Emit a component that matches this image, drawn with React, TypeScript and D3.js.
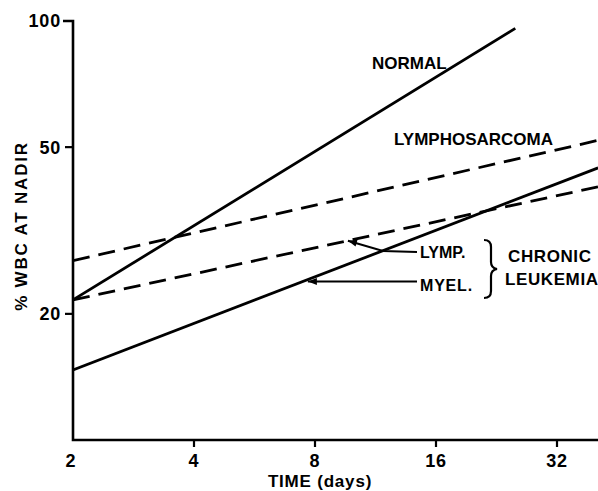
import * as d3 from "d3";

// x = time (days), y = % WBC at nadir
const xTicks = [2, 4, 8, 16, 32];
const yTicks = [20, 50, 100];

const normalDays = [2, 25.2];
const normalWbc = [21.6, 96];

const lymphosarcomaDays = [2, 40.5];
const lymphosarcomaWbc = [26.8, 51.9];

const lympDays = [2, 40.5];
const lympWbc = [21.6, 40.2];

const myelDays = [2, 40.5];
const myelWbc = [14.7, 44.6];

const FONT = "'Liberation Sans', Arial, sans-serif";

function App() {
  const width = 598;
  const height = 491;

  const x = d3.scaleLog().base(2).domain([2, 32]).range([73, 557]);
  const y = d3.scaleLog().domain([10, 100]).range([440, 21]);

  const line = d3
    .line<[number, number]>()
    .x((d) => x(d[0]))
    .y((d) => y(d[1]));

  const zip = (xs: number[], ys: number[]) =>
    xs.map((v, i) => [v, ys[i]] as [number, number]);

  // value of a straight (log-log) line at a given day
  const at = (xs: number[], ys: number[], day: number) => {
    const t = (Math.log(day) - Math.log(xs[0])) / (Math.log(xs[1]) - Math.log(xs[0]));
    return Math.exp(Math.log(ys[0]) + t * (Math.log(ys[1]) - Math.log(ys[0])));
  };

  const series = [
    { name: "normal", pts: zip(normalDays, normalWbc), dash: null },
    { name: "lymphosarcoma", pts: zip(lymphosarcomaDays, lymphosarcomaWbc), dash: "17 9" },
    { name: "lymp", pts: zip(lympDays, lympWbc), dash: "17 9" },
    { name: "myel", pts: zip(myelDays, myelWbc), dash: null },
  ];

  // arrow tips on the chronic leukemia lines
  const lympTipDay = 9.66;
  const lympTip: [number, number] = [x(lympTipDay), y(at(lympDays, lympWbc, lympTipDay))];
  const myelTipDay = 7.68;
  const myelTip: [number, number] = [x(myelTipDay), y(at(myelDays, myelWbc, myelTipDay))];

  const arrowHead = (tip: [number, number], from: [number, number]) => {
    const a = Math.atan2(from[1] - tip[1], from[0] - tip[0]);
    const len = 9;
    const w = 3.5;
    const bx = tip[0] + len * Math.cos(a);
    const by = tip[1] + len * Math.sin(a);
    const px = -Math.sin(a) * w;
    const py = Math.cos(a) * w;
    return `M${tip[0]},${tip[1]}L${bx + px},${by + py}L${bx - px},${by - py}Z`;
  };

  const lympBend: [number, number] = [383, 251];
  const lympEnd: [number, number] = [417, 252];
  const myelEnd: [number, number] = [417, myelTip[1] + 2];

  const textStyle = {
    fontFamily: FONT,
    fontWeight: "bold" as const,
    fontSize: 17,
    fill: "#000",
  };

  return (
    <svg
      width={width}
      height={height}
      style={{ position: "absolute", left: 0, top: 0, background: "#fff" }}
    >
      <defs>
        <clipPath id="plot">
          <rect x={73} y={0} width={width - 73} height={440} />
        </clipPath>
      </defs>

      {/* axes */}
      <path
        d={`M${x(2) - 10},${y(100)}H${x(2)}V${y(10)}H${width}`}
        fill="none"
        stroke="#000"
        strokeWidth={2.6}
      />
      {yTicks
        .filter((t) => t !== 100)
        .map((t) => (
          <line key={t} x1={x(2) - 8} x2={x(2)} y1={y(t)} y2={y(t)} stroke="#000" strokeWidth={2.2} />
        ))}
      {xTicks
        .filter((t) => t !== 2)
        .map((t) => (
          <line key={t} x1={x(t)} x2={x(t)} y1={y(10)} y2={y(10) + 7} stroke="#000" strokeWidth={2.2} />
        ))}

      {yTicks.map((t) => (
        <text key={t} x={x(2) - 12} y={y(t)} dy="0.36em" textAnchor="end" {...textStyle} fontSize={18} letterSpacing={0.8}>
          {t}
        </text>
      ))}
      {xTicks.map((t) => (
        <text key={t} x={x(t) - (t === 2 ? 2 : 0)} y={467} textAnchor="middle" {...textStyle} fontSize={18} letterSpacing={0.8}>
          {t}
        </text>
      ))}

      <text x={320} y={487} textAnchor="middle" {...textStyle} letterSpacing={0.8}>
        TIME (days)
      </text>
      <text
        transform={`translate(27,${226}) rotate(-90)`}
        textAnchor="middle"
        {...textStyle}
        letterSpacing={1.8}
      >
        % WBC AT NADIR
      </text>

      {/* lines */}
      <g clipPath="url(#plot)">
        {series.map((s) => (
          <path
            key={s.name}
            d={line(s.pts) ?? ""}
            fill="none"
            stroke="#000"
            strokeWidth={2.8}
            strokeDasharray={s.dash ?? undefined}
          />
        ))}
      </g>

      {/* labels */}
      <text x={372} y={69} {...textStyle}>NORMAL</text>
      <text x={394} y={145} {...textStyle}>LYMPHOSARCOMA</text>

      <path
        d={`M${lympTip[0]},${lympTip[1]}L${lympBend[0]},${lympBend[1]}L${lympEnd[0]},${lympEnd[1]}`}
        fill="none"
        stroke="#000"
        strokeWidth={2}
      />
      <path d={arrowHead(lympTip, lympBend)} fill="#000" />
      <path
        d={`M${myelTip[0]},${myelTip[1] + 2}H${myelEnd[0]}`}
        fill="none"
        stroke="#000"
        strokeWidth={2}
      />
      <path d={arrowHead([myelTip[0], myelTip[1] + 2], myelEnd)} fill="#000" />

      <text x={420} y={258} {...textStyle} fontSize={16}>LYMP.</text>
      <text x={420} y={291} {...textStyle} fontSize={16} letterSpacing={0.8}>MYEL.</text>

      <path
        d="M484,240 Q491,240 491,247 V262 Q491,268 497,269 Q491,270 491,276 V291 Q491,298 484,298"
        fill="none"
        stroke="#000"
        strokeWidth={2.2}
      />

      <text x={508} y={262} {...textStyle} letterSpacing={0.6}>CHRONIC</text>
      <text x={505} y={285} {...textStyle} letterSpacing={0.6}>LEUKEMIA</text>
    </svg>
  );
}

export default App;
